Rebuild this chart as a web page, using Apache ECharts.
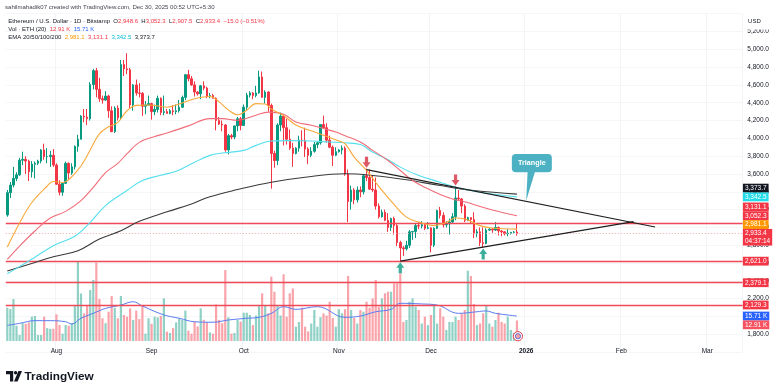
<!DOCTYPE html>
<html><head><meta charset="utf-8">
<script src="https://cdn.jsdelivr.net/npm/echarts@6/dist/echarts.min.js"></script>
<style>html,body{margin:0;padding:0;background:#fff}#c{width:780px;height:388px}</style>
</head><body><div id="c"></div>
<script>
// ---------- DATA ----------
const startDate = [2025, 6, 16];   // 16 Jul 2025 (month 0-based)
const dayCount = 240;              // time axis runs to mid-March 2026
const monthNames = ['Jan','Feb','Mar','Apr','May','Jun','Jul','Aug','Sep','Oct','Nov','Dec'];

// daily candles [open, high, low, close] from 16 Jul 2025 to 29 Dec 2025
const ohlc = [
 [3140,3420,3120,3390],[3390,3510,3330,3475],[3475,3680,3450,3550],[3550,3620,3520,3590],[3590,3780,3580,3755],
 [3755,3850,3700,3765],[3765,3800,3600,3745],[3745,3760,3520,3625],[3625,3745,3560,3710],[3710,3740,3550,3720],
 [3720,3760,3700,3745],[3745,3880,3720,3870],[3870,3940,3760,3795],[3795,3890,3720,3795],[3795,3860,3680,3810],
 [3810,3880,3680,3700],[3700,3720,3480,3485],[3485,3530,3360,3395],[3395,3500,3355,3495],[3495,3740,3490,3720],
 [3720,3730,3540,3610],[3610,3720,3590,3680],[3680,3920,3650,3910],[3910,4040,3850,3990],[3990,4260,3990,4250],
 [4250,4330,4180,4240],[4240,4330,4150,4220],[4220,4630,4200,4605],[4605,4780,4550,4760],[4760,4790,4460,4550],
 [4550,4680,4410,4445],[4445,4480,4390,4430],[4430,4530,4420,4475],[4475,4490,4230,4310],[4310,4360,4070,4075],
 [4075,4360,4060,4340],[4340,4370,4200,4230],[4230,4880,4210,4830],[4830,4880,4700,4780],[4780,4956,4720,4770],
 [4770,4790,4340,4375],[4375,4610,4310,4600],[4600,4660,4480,4510],[4510,4620,4460,4505],[4505,4520,4250,4360],
 [4360,4420,4270,4375],[4375,4480,4370,4390],[4390,4400,4210,4300],[4300,4380,4260,4325],[4325,4480,4290,4450],
 [4450,4460,4260,4290],[4290,4480,4260,4300],[4300,4330,4280,4280],[4280,4330,4270,4310],[4310,4370,4260,4300],
 [4300,4380,4270,4310],[4310,4430,4290,4350],[4350,4480,4340,4460],[4460,4720,4430,4715],[4715,4770,4640,4670],
 [4670,4700,4590,4600],[4600,4640,4470,4520],[4520,4530,4480,4500],[4500,4600,4440,4590],[4590,4640,4540,4565],
 [4565,4580,4450,4470],[4470,4510,4450,4480],[4480,4500,4450,4450],[4450,4460,4090,4200],[4200,4240,4150,4160],
 [4160,4200,4080,4150],[4150,4160,3850,3870],[3870,4050,3820,4030],[4030,4050,3990,4015],[4015,4140,3990,4140],
 [4140,4240,4080,4220],[4220,4240,4090,4145],[4145,4380,4140,4350],[4350,4510,4320,4485],[4485,4530,4460,4510],
 [4510,4520,4440,4480],[4480,4590,4460,4510],[4510,4760,4500,4690],[4690,4750,4460,4460],[4460,4540,4390,4520],
 [4520,4530,4300,4370],[4370,4390,3435,3830],[3830,3860,3670,3750],[3750,4170,3700,4150],[4150,4290,4080,4250],
 [4250,4260,3920,4120],[4120,4220,3930,3990],[3990,4100,3870,3890],[3890,3950,3680,3830],[3830,3900,3820,3890],
 [3890,4030,3850,3980],[3980,4090,3910,3975],[3975,4120,3790,3880],[3880,3900,3710,3810],[3810,3900,3790,3855],
 [3855,3960,3840,3930],[3930,3960,3890,3950],[3950,4160,3930,4155],[4155,4255,4110,4120],[4120,4170,3950,3980],
 [3980,4030,3890,3900],[3900,3920,3690,3810],[3810,3900,3800,3850],[3850,3880,3840,3870],[3870,3920,3820,3890],
 [3890,3910,3580,3600],[3600,3650,3060,3290],[3290,3470,3200,3420],[3420,3440,3260,3310],[3310,3460,3280,3420],
 [3420,3460,3340,3400],[3400,3590,3370,3580],[3580,3660,3520,3560],[3560,3650,3420,3430],[3430,3590,3400,3420],
 [3420,3560,3200,3240],[3240,3270,3100,3120],[3120,3200,3110,3170],[3170,3200,3070,3080],[3080,3160,2950,3000],
 [3000,3110,2960,3100],[3100,3120,2920,3020],[3020,3050,2790,2830],[2830,2850,2621,2770],[2770,2790,2680,2760],
 [2760,2850,2740,2800],[2800,2970,2770,2950],[2950,2960,2860,2955],[2955,3040,2880,3020],[3020,3060,2980,3015],
 [3015,3070,2990,3030],[3030,3040,2970,2990],[2990,3060,2980,2995],[2995,3000,2720,2800],[2800,3000,2780,2990],
 [2990,3200,2980,3190],[3190,3230,3100,3135],[3135,3170,3000,3030],[3030,3070,3000,3040],[3040,3100,2920,3060],
 [3060,3160,3050,3120],[3120,3460,3080,3330],[3330,3420,3300,3320],[3320,3330,3160,3240],[3240,3260,3060,3080],
 [3080,3120,3070,3110],[3110,3110,3050,3090],[3090,3170,2880,2930],[2930,2980,2890,2950],[2950,3000,2790,2830],
 [2830,3000,2775,2820],[2820,2990,2810,2970],[2970,2990,2960,2980],[2980,2990,2940,2970],[2970,3060,2960,3000],
 [3000,3010,2910,2960],[2960,2970,2900,2950],[2950,2960,2910,2930],[2930,2980,2900,2935],[2935,2950,2920,2945],
 [2945,2960,2930,2948.4],[2948.6,3052.3,2907.5,2933.4]
];

// daily volume, thousands of ETH
const volumes = [
 20.9,20.1,26.4,9.6,3.8,11.2,10.8,11.7,15.3,15.7,
 3.8,3.8,15.3,8.1,7.7,7.7,16.8,10.1,4.6,10.1,
 9.6,11.2,22.2,49.9,29.9,17.4,22.6,32.1,38.4,49.3,
 26.4,14.3,11.2,18.4,28.3,20.9,14.3,28.3,16.4,15.3,
 20.5,13.3,19.1,13.8,22,4.6,14.3,10.8,15.3,14.9,
 15.7,26.8,5.9,5,8.1,11.7,14.3,13.3,19.1,6.5,
 4.6,12.2,9.2,20.5,13.3,11.7,5.4,4.6,23,13.3,
 11.2,44.6,14.9,4.6,5,13.3,12.2,17.8,17.8,16.4,
 10,16,22.6,30,22.6,17.4,40.5,31,22.6,16,
 42,15.3,30,33,9,12,21,9,6,11,
 19.5,9,15,17.4,16,24.7,14.5,9,20,17.4,
 20,40.9,19.5,14.5,11,19.5,18.4,24.7,21,26.8,
 38.4,21.6,26.8,30,31,31,36.3,36.3,42.6,12,
 13.2,24.7,26.8,21.6,19.5,11,15.3,10,16.4,22.6,
 11,20.6,15.3,7,12,12,15.3,13.2,17.4,19.5,
 44.2,40.9,23.3,10,11,17.4,22,11,9,13.2,
 17.8,12,11,15.3,7,5.2,12.91
];

// indicator lines [date, value]
const ema20Pts = [['2025-07-16',2780],['2025-07-20',3050],['2025-07-24',3280],['2025-07-29',3465],['2025-07-31',3515],
 ['2025-08-03',3505],['2025-08-05',3535],['2025-08-09',3690],['2025-08-12',3870],['2025-08-15',4050],['2025-08-18',4130],
 ['2025-08-21',4180],['2025-08-24',4310],['2025-08-27',4370],['2025-08-31',4375],['2025-09-06',4350],['2025-09-10',4385],
 ['2025-09-15',4445],['2025-09-20',4470],['2025-09-23',4410],['2025-09-26',4320],['2025-09-29',4265],['2025-10-02',4316],
 ['2025-10-05',4390],['2025-10-08',4385],['2025-10-10',4330],['2025-10-14',4255],['2025-10-18',4150],['2025-10-23',4085],
 ['2025-10-27',4035],['2025-11-01',3970],['2025-11-03',3940],['2025-11-06',3790],['2025-11-10',3640],['2025-11-14',3460],
 ['2025-11-19',3255],['2025-11-23',3115],['2025-11-27',3060],['2025-12-02',3020],['2025-12-06',3057],['2025-12-09',3105],
 ['2025-12-12',3095],['2025-12-17',3020],['2025-12-21',2993],['2025-12-29',2981.1]];
const ema50Pts = [['2025-07-16',2640],['2025-07-20',2790],['2025-07-25',2960],['2025-07-30',3105],['2025-08-04',3180],
 ['2025-08-09',3300],['2025-08-13',3450],['2025-08-17',3615],['2025-08-21',3720],['2025-08-24',3828],['2025-08-28',3955],
 ['2025-09-02',4020],['2025-09-06',4060],['2025-09-13',4140],['2025-09-20',4222],['2025-09-24',4222],['2025-09-29',4203],
 ['2025-10-05',4260],['2025-10-09',4295],['2025-10-14',4271],['2025-10-18',4184],['2025-10-23',4147],['2025-10-27',4110],
 ['2025-10-31',4071],['2025-11-03',4030],['2025-11-08',3959],['2025-11-12',3865],['2025-11-17',3752],['2025-11-21',3639],
 ['2025-11-25',3527],['2025-11-30',3433],['2025-12-04',3369],['2025-12-08',3320],['2025-12-13',3280],['2025-12-17',3234],
 ['2025-12-21',3196],['2025-12-29',3131.1]];
const ema100Pts = [['2025-07-16',2480],['2025-07-19',2540],['2025-07-25',2665],['2025-07-31',2795],['2025-08-07',2900],
 ['2025-08-12',3057],['2025-08-17',3245],['2025-08-24',3414],['2025-08-29',3527],['2025-09-04',3585],['2025-09-09',3630],
 ['2025-09-14',3715],['2025-09-20',3809],['2025-09-24',3835],['2025-10-01',3865],['2025-10-05',3921],['2025-10-10',3970],
 ['2025-10-16',3975],['2025-10-23',3970],['2025-10-29',3959],['2025-11-03',3950],['2025-11-08',3930],['2025-11-12',3846],
 ['2025-11-17',3760],['2025-11-21',3677],['2025-11-27',3583],['2025-12-04',3508],['2025-12-09',3451],['2025-12-17',3395],
 ['2025-12-29',3342.5]];
const ema200Pts = [['2025-07-16',2510],['2025-07-25',2606],['2025-07-31',2670],['2025-08-08',2738],['2025-08-15',2869],
 ['2025-08-22',2963],['2025-08-28',3068],['2025-09-06',3175],['2025-09-14',3264],['2025-09-20',3345],['2025-09-29',3425],
 ['2025-10-10',3508],['2025-10-21',3564],['2025-11-03',3602],['2025-11-12',3583],['2025-11-23',3535],['2025-12-04',3470],
 ['2025-12-15',3414],['2025-12-29',3373.7]];
const volMaPts = [['2025-07-16',9.8],['2025-07-20',11.1],['2025-07-25',12.8],['2025-07-30',12.8],['2025-08-04',12.1],
 ['2025-08-06',10.7],['2025-08-09',14.3],['2025-08-13',17.4],['2025-08-17',20.5],['2025-08-22',22.6],['2025-08-26',24.7],
 ['2025-08-29',22],['2025-09-05',16.4],['2025-09-10',14.3],['2025-09-15',12.1],['2025-09-21',11.8],['2025-09-26',13.2],
 ['2025-10-02',14.3],['2025-10-06',14.9],['2025-10-10',17.4],['2025-10-14',21.6],['2025-10-18',19.9],['2025-10-25',21.6],
 ['2025-11-03',14.9],['2025-11-08',15.7],['2025-11-13',18.4],['2025-11-18',19.9],['2025-11-21',23.7],['2025-11-28',23.3],
 ['2025-12-03',22.6],['2025-12-10',17.4],['2025-12-16',18.4],['2025-12-19',18.9],['2025-12-22',17.4],['2025-12-29',15.71]];

const hLevels = [3052.3, 2621.0, 2379.1, 2129.3];
const upperTrend = [['2025-11-10', 3649], ['2026-02-12', 3005]];
const lowerTrend = [['2025-11-21', 2621], ['2026-02-05', 3065]];
const downArrowDates = ['2025-11-10', '2025-12-09'];
const upArrowDates = ['2025-11-21', '2025-12-18'];
const calloutAnchor = ['2026-01-01', 3300];
const calloutText = 'Triangle';
const countdown = '04:37:14';
const priceTicks = {min: 1600, max: 5400, step: 200};

// ---------- BUILD ----------
const FONT = 'Liberation Sans, Arial, sans-serif';
const UP = '#089981', DOWN = '#f23645';
const dates = [];
for (let k = 0; k < dayCount; k++) {
  const d = new Date(Date.UTC(startDate[0], startDate[1], startDate[2] + k));
  dates.push(d.toISOString().slice(0, 10));
}
const idxOf = d => dates.indexOf(d);
const fmt1 = v => v.toLocaleString('en-US', {minimumFractionDigits: 1, maximumFractionDigits: 1});
const last = ohlc[ohlc.length - 1], prev = ohlc[ohlc.length - 2];
const lastClose = last[3];
const chg = lastClose - prev[3];
const chgPct = chg / prev[3] * 100;
const lastOf = a => a[a.length - 1][1];

const candleData = ohlc.map(r => [r[0], r[3], r[2], r[1]]);
const volData = volumes.map((v, k) => ({value: v, itemStyle: {color: ohlc[k][3] >= ohlc[k][0] ? 'rgba(8,153,129,0.45)' : 'rgba(242,54,69,0.45)'}}));

const downArrowPath = 'path://M3,0 L7,0 L7,6 L10,6 L5,12 L0,6 L3,6 Z';
const upArrowPath = 'path://M5,0 L10,6 L7,6 L7,12 L3,12 L3,6 L0,6 Z';

const GL = 5.77, GR = 37.4;

const option = {
  animation: false,
  backgroundColor: '#ffffff',
  grid: [
    {left: GL, right: GR, top: 13.67, bottom: 35.9},
    {left: GL, right: GR, top: 182, bottom: 47}
  ],
  xAxis: [
    {type: 'category', gridIndex: 0, data: dates, boundaryGap: true,
     axisLine: {show: false}, axisTick: {show: false}, axisLabel: {show: false},
     splitLine: {show: true, interval: (i, v) => v.slice(8) === '01', lineStyle: {color: '#f3f4f7', width: 1}}},
    {type: 'category', gridIndex: 1, data: dates, boundaryGap: true,
     axisLine: {show: false}, axisTick: {show: false}, splitLine: {show: false},
     axisLabel: {show: true, interval: (i, v) => v.slice(8) === '01', margin: 6.5, fontSize: 6.5, fontFamily: FONT, color: '#131722',
       formatter: v => { const m = +v.slice(5, 7); return m === 1 ? '{y|' + v.slice(0, 4) + '}' : monthNames[m - 1]; },
       rich: {y: {fontWeight: 'bold', fontSize: 6.5, fontFamily: FONT, color: '#131722'}}}}
  ],
  yAxis: [
    {type: 'value', gridIndex: 0, position: 'right', min: priceTicks.min, max: priceTicks.max, interval: priceTicks.step,
     axisLine: {show: false}, axisTick: {show: false},
     splitLine: {show: true, lineStyle: {color: '#f5f6f8', width: 1}},
     axisLabel: {margin: 4.7, fontSize: 6.5, fontFamily: FONT, color: '#131722',
       formatter: v => (v <= priceTicks.min || v >= priceTicks.max) ? '' : fmt1(v)}},
    {type: 'value', gridIndex: 1, min: 0, max: 100, show: false}
  ],
  series: [
    {type: 'bar', name: 'Volume', xAxisIndex: 1, yAxisIndex: 1, data: volData, barWidth: '72%', silent: true, z: 1},
    {type: 'line', name: 'Vol MA', xAxisIndex: 1, yAxisIndex: 1, data: volMaPts, smooth: 0.4, showSymbol: false, silent: true,
     lineStyle: {color: '#5b7cf0', width: 1}, z: 2},
    // current-price dotted line
    {type: 'line', name: 'priceLine', xAxisIndex: 0, yAxisIndex: 0, data: [], silent: true, z: 2,
     markLine: {silent: true, symbol: ['none', 'none'], animation: false, label: {show: false},
       lineStyle: {color: '#f0a8ae', width: 1.2, type: [1, 2]}, data: [{yAxis: lastClose}]}},
    // horizontal levels
    {type: 'line', name: 'levels', xAxisIndex: 0, yAxisIndex: 0, data: [], silent: true, z: 3,
     markLine: {silent: true, symbol: ['none', 'none'], animation: false, label: {show: false},
       lineStyle: {color: '#f04a58', width: 1.4, type: 'solid', opacity: 1}, data: hLevels.map(v => ({yAxis: v}))}},
    {type: 'candlestick', name: 'ETHUSD', xAxisIndex: 0, yAxisIndex: 0, data: candleData, barWidth: 2, silent: true, z: 4,
     itemStyle: {color: UP, color0: DOWN, borderColor: UP, borderColor0: DOWN, borderWidth: 1}},
    {type: 'line', name: 'EMA200', data: ema200Pts, smooth: 0.4, showSymbol: false, silent: true, lineStyle: {color: '#3a3a3a', width: 1.1}, z: 5},
    {type: 'line', name: 'EMA100', data: ema100Pts, smooth: 0.4, showSymbol: false, silent: true, lineStyle: {color: '#55dfec', width: 1.1}, z: 5},
    {type: 'line', name: 'EMA50', data: ema50Pts, smooth: 0.4, showSymbol: false, silent: true, lineStyle: {color: '#f06c78', width: 1.1}, z: 5},
    {type: 'line', name: 'EMA20', data: ema20Pts, smooth: 0.4, showSymbol: false, silent: true, lineStyle: {color: '#f8a93a', width: 1.1}, z: 5},
    // triangle trend lines
    {type: 'line', name: 'upperTrend', data: upperTrend, showSymbol: false, silent: true, lineStyle: {color: '#1e1e1e', width: 1.2}, z: 6},
    {type: 'line', name: 'lowerTrend', data: lowerTrend, showSymbol: false, silent: true, lineStyle: {color: '#1e1e1e', width: 1.2}, z: 6},
    {type: 'scatter', name: 'down', data: downArrowDates.map(d => [d, ohlc[idxOf(d)][1]]), symbol: downArrowPath,
     symbolSize: [8, 11], symbolOffset: [0, -6.5], itemStyle: {color: '#d3303f'}, silent: true, z: 7},
    {type: 'scatter', name: 'up', data: upArrowDates.map(d => [d, ohlc[idxOf(d)][2]]), symbol: upArrowPath,
     symbolSize: [8, 11], symbolOffset: [0, 6.5], itemStyle: {color: '#0d9a82'}, silent: true, z: 7}
  ]
};

const chart = echarts.init(document.getElementById('c'), null, {renderer: 'canvas', width: 780, height: 388});
chart.setOption(option);

// ---------- OVERLAYS ----------
const yPx = v => chart.convertToPixel({yAxisIndex: 0}, v);
const vPx = v => chart.convertToPixel({yAxisIndex: 1}, v);
const ptPx = (d, v) => chart.convertToPixel({gridIndex: 0}, [d, v]);
const paneRight = 780 - GR;
const H = 8.8;

const tags = [
  {ty: yPx(lastOf(ema200Pts)), text: fmt1(lastOf(ema200Pts)), bg: '#131722'},
  {ty: yPx(lastOf(ema100Pts)), text: fmt1(lastOf(ema100Pts)), bg: '#22dcea'},
  {ty: yPx(lastOf(ema50Pts)), text: fmt1(lastOf(ema50Pts)), bg: '#f23645'},
  ...hLevels.map(v => ({ty: yPx(v), text: fmt1(v), bg: '#f23645'})),
  {ty: yPx(lastOf(ema20Pts)), text: fmt1(lastOf(ema20Pts)), bg: '#ff9800'},
  {ty: yPx(lastClose), text: fmt1(lastClose) + '\n' + countdown, bg: '#f23645', anchor: true},
  {ty: vPx(lastOf(volMaPts)), text: lastOf(volMaPts).toFixed(2) + ' K', bg: '#2962ff'},
  {ty: vPx(volumes[volumes.length - 1]), text: volumes[volumes.length - 1].toFixed(2) + ' K', bg: '#f7525f'}
];
tags.sort((a, b) => a.ty - b.ty);
const ai = tags.findIndex(t => t.anchor);
tags[ai].y = tags[ai].ty;
for (let k = ai - 1; k >= 0; k--) tags[k].y = Math.min(tags[k].ty, tags[k + 1].y - H);
for (let k = ai + 1; k < tags.length; k++) {
  const pb = tags[k - 1].anchor ? tags[k - 1].y + 1.5 * H : tags[k - 1].y + H / 2;
  tags[k].y = Math.max(tags[k].ty, pb + H / 2);
}

const LF = 6.0;
const graphics = [];
graphics.push({type: 'text', z: 100, style: {x: 5, y: 7, text: 'sahilmahadik07 created with TradingView.com, Dec 30, 2025 00:52 UTC+5:30',
  fontSize: 6.05, fontFamily: FONT, fill: '#434651', verticalAlign: 'middle'}});
const sgn = v => (v < 0 ? '\u2212' : '+') + Math.abs(v).toFixed(1);
graphics.push({type: 'text', z: 100, style: {x: 8.3, y: 21, verticalAlign: 'middle', fontSize: LF, fontFamily: FONT,
  text: '{t|Ethereum / U.S. Dollar \u00b7 1D \u00b7 Bitstamp}  {t|O}{v|' + fmt1(last[0]) + '}  {t|H}{v|' + fmt1(last[1]) +
        '}  {t|L}{v|' + fmt1(last[2]) + '}  {t|C}{v|' + fmt1(last[3]) + '}  {v|' + sgn(chg) + ' (' + (chgPct < 0 ? '\u2212' : '+') + Math.abs(chgPct).toFixed(2) + '%)}',
  rich: {t: {fill: '#131722', fontSize: LF, fontFamily: FONT}, v: {fill: '#f23645', fontSize: LF, fontFamily: FONT}}}});
graphics.push({type: 'text', z: 100, style: {x: 8.3, y: 29.3, verticalAlign: 'middle', fontSize: LF, fontFamily: FONT,
  text: '{t|Vol \u00b7 ETH (20)}  {r|' + volumes[volumes.length - 1].toFixed(2) + ' K}  {b|' + lastOf(volMaPts).toFixed(2) + ' K}',
  rich: {t: {fill: '#131722', fontSize: LF, fontFamily: FONT}, r: {fill: '#f23645', fontSize: LF, fontFamily: FONT}, b: {fill: '#2962ff', fontSize: LF, fontFamily: FONT}}}});
graphics.push({type: 'text', z: 100, style: {x: 8.3, y: 37.7, verticalAlign: 'middle', fontSize: LF, fontFamily: FONT,
  text: '{t|EMA 20/50/100/200}  {o|' + fmt1(lastOf(ema20Pts)) + '}  {r|' + fmt1(lastOf(ema50Pts)) + '}  {c|' + fmt1(lastOf(ema100Pts)) + '}  {t|' + fmt1(lastOf(ema200Pts)) + '}',
  rich: {t: {fill: '#131722', fontSize: LF, fontFamily: FONT}, o: {fill: '#ff9800', fontSize: LF, fontFamily: FONT},
         r: {fill: '#f23645', fontSize: LF, fontFamily: FONT}, c: {fill: '#00bcd4', fontSize: LF, fontFamily: FONT}}}});
graphics.push({type: 'rect', z: 100, shape: {x: paneRight + 0.5, y: 12, width: 780 - paneRight, height: 17.5}, style: {fill: '#ffffff'}});
graphics.push({type: 'text', z: 101, style: {x: paneRight + 5.5, y: 21.5, text: 'USD', fontSize: 6, fontFamily: FONT, fill: '#131722', verticalAlign: 'middle'}});
tags.forEach(t => {
  const multi = t.anchor;
  graphics.push({type: 'text', z: 110, style: {
    x: paneRight + 0.3, y: multi ? t.y - H / 2 : t.y, text: t.text, fontSize: 6.5, fontFamily: FONT, fill: '#ffffff',
    backgroundColor: t.bg, padding: [0.5, 2, 0.5, 2], lineHeight: 7.8, align: 'left', verticalAlign: multi ? 'top' : 'middle'}});
});
const tip = ptPx(calloutAnchor[0], calloutAnchor[1]);
graphics.push({type: 'polygon', z: 90, shape: {points: [[tip[0] + 1.5, tip[1] - 29.5], [tip[0] + 9, tip[1] - 29.5], [tip[0], tip[1]]]}, style: {fill: '#4cb2c3'}});
graphics.push({type: 'rect', z: 90, shape: {x: tip[0] - 14.3, y: tip[1] - 46.7, width: 40, height: 18.3, r: 4}, style: {fill: '#4cb2c3'}});
graphics.push({type: 'text', z: 91, style: {x: tip[0] + 5.7, y: tip[1] - 37.5, text: calloutText, fontSize: 7.2, fontWeight: 'bold', fontFamily: FONT,
  fill: '#ffffff', align: 'center', verticalAlign: 'middle'}});
const ev = ptPx(dates[ohlc.length - 1], priceTicks.min);
const evY = vPx(0) - 4.8;
graphics.push({type: 'circle', z: 95, shape: {cx: ev[0] + 1, cy: evY, r: 4.6}, style: {fill: '#ffffff', stroke: '#e2404f', lineWidth: 1}});
graphics.push({type: 'circle', z: 96, shape: {cx: ev[0] + 1, cy: evY, r: 2.6}, style: {fill: '#f4a3ab', stroke: '#3f5fd6', lineWidth: 0.8}});
graphics.push({type: 'polygon', z: 100, shape: {points: [[6, 371], [13.2, 371], [13.2, 381.5], [10, 381.5], [10, 374.3], [6, 374.3]]}, style: {fill: '#131722'}});
graphics.push({type: 'circle', z: 100, shape: {cx: 15.6, cy: 372.7, r: 1.7}, style: {fill: '#131722'}});
graphics.push({type: 'polygon', z: 100, shape: {points: [[18.4, 371], [22, 371], [17.6, 381.5], [14, 381.5]]}, style: {fill: '#131722'}});
graphics.push({type: 'text', z: 100, style: {x: 24.5, y: 376.5, text: 'TradingView', fontSize: 11.8, fontWeight: 600, fontFamily: FONT, fill: '#131722', verticalAlign: 'middle'}});

chart.setOption({graphic: graphics});
</script>
</body></html>
